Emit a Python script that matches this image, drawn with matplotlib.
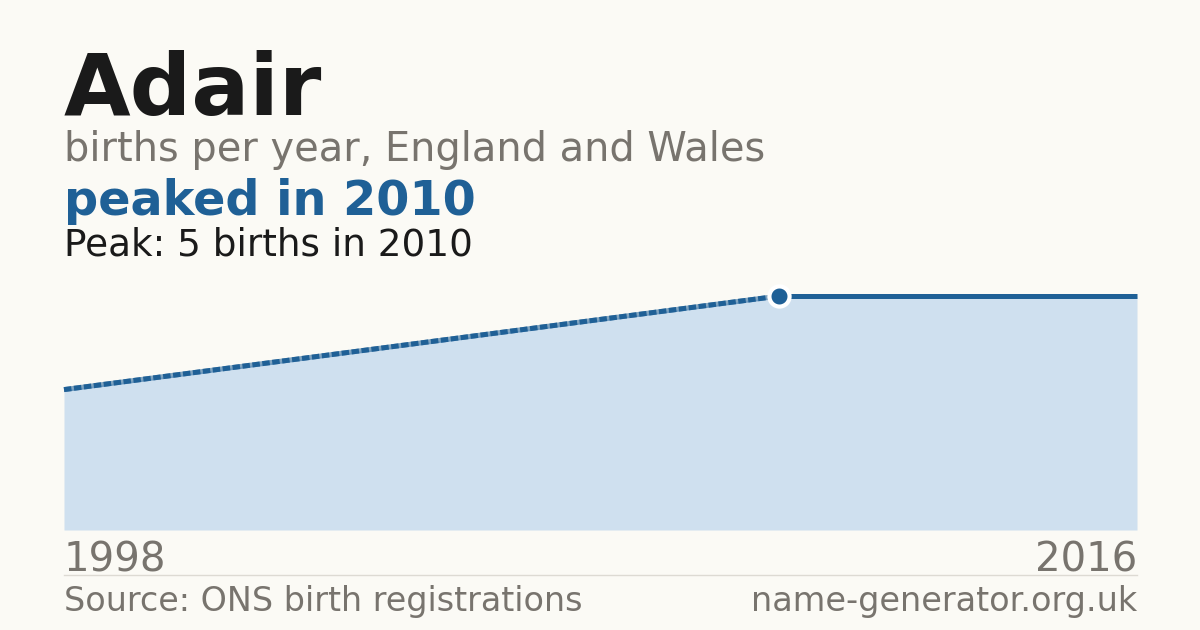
import matplotlib
matplotlib.use('Agg')
import matplotlib.pyplot as plt

# data
years = [1998, 2010, 2011, 2012, 2013, 2014, 2015, 2016]
births = [3, 5, 5, 5, 5, 5, 5, 5]
peak_year = 2010
peak_value = 5

name = 'Adair'
subtitle = 'births per year, England and Wales'
headline = 'peaked in 2010'
peak_note = 'Peak: 5 births in 2010'
source = 'Source: ONS birth registrations'
site = 'name-generator.org.uk'

BG = '#fbfaf5'
BLUE = '#1f6096'
FILL = '#cfe0ef'
GREY = '#78746e'
DARK = '#1a1a1a'

plt.rcParams['font.family'] = ['DejaVu Sans']

fig = plt.figure(figsize=(12, 6.3), dpi=100, facecolor=BG)

# plot area: x 64..1137 px, y 296..530 px
ax = fig.add_axes([64 / 1200, 1 - 530 / 630, (1137 - 64) / 1200, (530 - 296) / 630])
ax.set_facecolor(BG)
ax.set_xlim(years[0], years[-1])
ax.set_ylim(0, peak_value)

ax.fill_between(years, births, 0, color=FILL, lw=0, zorder=1)

# gap in the data (1998 -> 2010) drawn dashed, the rest solid
ax.plot(years[:2], births[:2], color=BLUE, lw=3.6, alpha=0.55,
        solid_capstyle='butt', clip_on=False, zorder=2)
ax.plot(years[:2], births[:2], color=BLUE, lw=3.6, dashes=(1.5, 0.5),
        dash_capstyle='butt', clip_on=False, zorder=2)
ax.plot(years[1:], births[1:], color=BLUE, lw=3.6, solid_capstyle='butt',
        clip_on=False, zorder=2)
ax.plot([peak_year], [peak_value], 'o', ms=14.5, mfc=BLUE, mec='white', mew=3,
        clip_on=False, zorder=3)

for s in ax.spines.values():
    s.set_visible(False)
ax.set_xticks([])
ax.set_yticks([])

# titles
fig.text(64 / 1200, 1 - 115 / 630, name, fontsize=62, fontweight='bold',
         color=DARK, va='baseline', ha='left')
fig.text(64 / 1200, 1 - 161 / 630, subtitle, fontsize=28.7, color=GREY,
         va='baseline', ha='left')
fig.text(64 / 1200, 1 - 215 / 630, headline, fontsize=34.4, fontweight='bold',
         color=BLUE, va='baseline', ha='left')
fig.text(64 / 1200, 1 - 255 / 630, peak_note, fontsize=26.9, color=DARK,
         va='baseline', ha='left')

# year labels
fig.text(64 / 1200, 1 - 571 / 630, str(years[0]), fontsize=29, color=GREY,
         va='baseline', ha='left')
fig.text(1137 / 1200, 1 - 571 / 630, str(years[-1]), fontsize=29, color=GREY,
         va='baseline', ha='right')

# separator
fig.add_artist(plt.Line2D([64 / 1200, 1137 / 1200], [1 - 574.5 / 630] * 2,
                          color='#dddad3', lw=1))

# footer
fig.text(64 / 1200, 1 - 611 / 630, source, fontsize=24.0, color=GREY,
         va='baseline', ha='left')
fig.text(1137 / 1200, 1 - 611 / 630, site, fontsize=24.1, color=GREY,
         va='baseline', ha='right')

fig.savefig('out.png', dpi=100, facecolor=BG)
